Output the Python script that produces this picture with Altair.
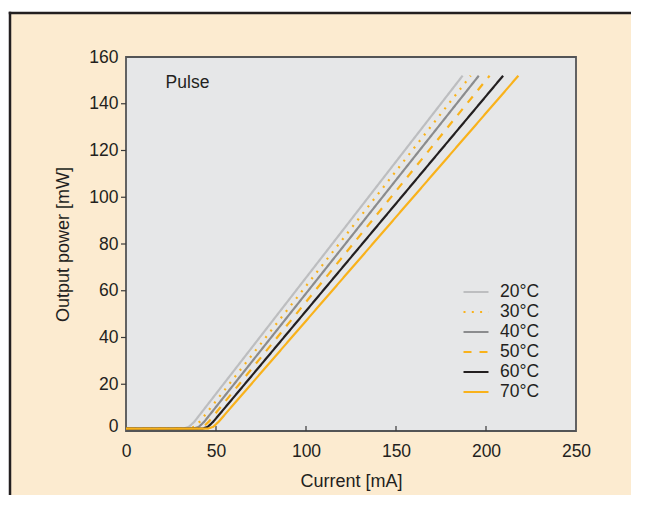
import altair as alt
import pandas as pd

# ---- data ----
series = ["20°C", "30°C", "40°C", "50°C", "60°C", "70°C"]
colors = ["#BDBEC0", "#F9B21B", "#8B8C8E", "#F9B21B", "#231F20", "#F9B21B"]
dashes = [[1, 0], [2, 6.3], [1, 0], [8, 8], [1, 0], [1, 0]]

current_20 = [0, 32.0, 35.0, 38.0, 187.0]
power_20 = [1.0, 1.0, 1.8, 4.0, 152.0]
current_30 = [0, 35.0, 38.0, 41.0, 191.5]
power_30 = [1.0, 1.0, 1.8, 4.0, 152.0]
current_40 = [0, 37.5, 40.5, 43.5, 196.0]
power_40 = [1.0, 1.0, 1.8, 4.0, 152.0]
current_50 = [0, 40.0, 43.0, 46.0, 202.0]
power_50 = [1.0, 1.0, 1.8, 4.0, 152.0]
current_60 = [0, 42.5, 45.5, 48.5, 209.5]
power_60 = [1.0, 1.0, 1.8, 4.0, 152.0]
current_70 = [0, 45.5, 48.5, 51.5, 218.0]
power_70 = [1.0, 1.0, 1.8, 4.0, 152.0]

x_ticks = [0, 50, 100, 150, 200, 250]
y_ticks = [0, 20, 40, 60, 80, 100, 120, 140, 160]
x_inner_ticks = [50, 100, 150, 200]
y_outer_ticks = [20, 40, 60, 80, 100, 120, 140]
note_text = "Pulse"
note_x = 22
note_y = 149

# ---- build table ----
cur = [current_20, current_30, current_40, current_50, current_60, current_70]
pw = [power_20, power_30, power_40, power_50, power_60, power_70]
rows = []
for s, cs, ps in zip(series, cur, pw):
    for i, (c, p) in enumerate(zip(cs, ps)):
        rows.append({"series": s, "current": c, "power": p, "i": i})
df = pd.DataFrame(rows)

FONT = "Liberation Sans"
TXT = "#231F20"
W, H = 450, 374
FS = 17.5

xs = alt.Scale(domain=[0, 250], nice=False, zero=False)
ys = alt.Scale(domain=[0, 160], nice=False, zero=False)

x_axis = alt.Axis(values=x_ticks, title="Current [mA]", domain=False, ticks=False, tickSize=0,
                  grid=False, labelPadding=11, titlePadding=13, labelFontSize=FS, titleFontSize=18,
                  titleFontWeight="normal", labelColor=TXT, titleColor=TXT, labelFont=FONT,
                  titleFont=FONT, zindex=1, labelFlush=False, labelOverlap=False, format="d")
y_axis = alt.Axis(values=y_ticks, title="Output power [mW]", domain=False, ticks=False, tickSize=0,
                  grid=False, labelPadding=8, titlePadding=16, labelFontSize=FS, titleFontSize=18,
                  titleFontWeight="normal", labelColor=TXT, titleColor=TXT, labelFont=FONT,
                  titleFont=FONT, zindex=1, labelFlush=False, labelOverlap=False, format="d",
                  labelBaseline={"condition": {"test": "datum.value == 0", "value": "alphabetic"},
                                 "value": "middle"})

one = pd.DataFrame({"a": [0]})

# cream card with dark left/top frame edges
card = alt.Chart(one).mark_rect(fill="#FCEBD0").encode(
    x=alt.value(-116), x2=alt.value(505), y=alt.value(-44), y2=alt.value(640))
frame_left = alt.Chart(one).mark_rule(color="#231F20", strokeWidth=2.5).encode(
    x=alt.value(-116), y=alt.value(-45.25), y2=alt.value(640))
frame_top = alt.Chart(one).mark_rule(color="#231F20", strokeWidth=2.5).encode(
    y=alt.value(-44), x=alt.value(-117.25), x2=alt.value(505))

panel = alt.Chart(one).mark_rect(fill="#E6E7E8", stroke="#535456", strokeWidth=1.8).encode(
    x=alt.value(0), x2=alt.value(W), y=alt.value(0), y2=alt.value(H))

xt = alt.Chart(pd.DataFrame({"current": x_inner_ticks})).mark_rule(color="#3a3a3a", strokeWidth=1.2).encode(
    x=alt.X("current:Q", scale=xs, axis=x_axis), y=alt.value(H), y2=alt.value(H - 5))

yt = alt.Chart(pd.DataFrame({"power": y_outer_ticks})).mark_rule(color="#3a3a3a", strokeWidth=1.2).encode(
    y=alt.Y("power:Q", scale=ys, axis=y_axis), x=alt.value(-5), x2=alt.value(0))

leg = alt.Legend(title=None, orient="none", legendX=336, legendY=225, direction="vertical",
                 symbolType="stroke", symbolSize=625, symbolStrokeWidth=2.2, clipHeight=20,
                 rowPadding=0, padding=0, labelOffset=10, labelFontSize=FS, labelFont=FONT,
                 labelColor=TXT, labelLimit=200)

lines = alt.Chart(df).mark_line(strokeWidth=2.2, strokeCap="butt").encode(
    x=alt.X("current:Q", scale=xs, axis=x_axis),
    y=alt.Y("power:Q", scale=ys, axis=y_axis),
    color=alt.Color("series:N", scale=alt.Scale(domain=series, range=colors), legend=leg),
    strokeDash=alt.StrokeDash("series:N", scale=alt.Scale(domain=series, range=dashes), legend=leg),
    order="i:Q",
)

note = alt.Chart(pd.DataFrame({"current": [note_x], "power": [note_y], "t": [note_text]})).mark_text(
    align="left", baseline="middle", fontSize=FS, font=FONT, color=TXT).encode(
    x=alt.X("current:Q", scale=xs, axis=x_axis), y=alt.Y("power:Q", scale=ys, axis=y_axis), text="t:N")

chart = alt.layer(card, frame_left, frame_top, panel, xt, yt, lines, note).properties(
    width=W, height=H,
    autosize=alt.AutoSizeParams(type="none"),
    padding={"left": 118, "top": 49, "right": 62, "bottom": 64},
    background="white",
).configure_view(stroke=None, fill=None)

chart.save("out.html", embed_options={"renderer": "svg", "actions": False})
